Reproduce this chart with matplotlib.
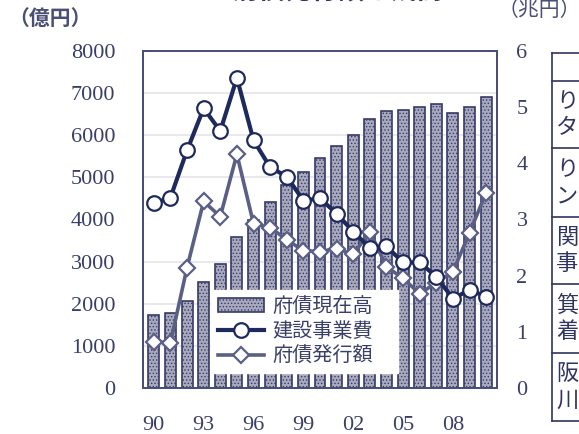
import numpy as np
import matplotlib.pyplot as plt
from matplotlib.lines import Line2D
from matplotlib.ticker import FixedLocator

plt.rcParams['font.family'] = ['Noto Sans CJK JP', 'DejaVu Sans']
plt.rcParams['hatch.linewidth'] = 0.6

# data
years = list(range(1990, 2011))
debt_balance = [1.30, 1.34, 1.55, 1.89, 2.20, 2.68, 3.00, 3.32, 3.61, 3.84, 4.09,
                4.30, 4.50, 4.79, 4.93, 4.95, 5.00, 5.05, 4.89, 5.00, 5.18]   # 兆円
construction = [4380, 4520, 5640, 6640, 6100, 7360, 5880, 5240, 5020, 4450, 4500,
                4140, 3710, 3330, 3360, 2980, 2980, 2640, 2120, 2330, 2170]  # 億円
bond_issue = [1100, 1070, 2860, 4430, 4070, 5550, 3900, 3810, 3520, 3260, 3240,
              3310, 3170, 3710, 2880, 2600, 2240, 2500, 2760, 3690, 4640]    # 億円
xtick_labels = ['90', '93', '96', '99', '02', '05', '08']
legend_labels = ['府債現在高', '建設事業費', '府債発行額']
table_chars = ['り\nタ', 'り\nン', '関\n事', '箕\n着', '阪\n川']

navy = '#1f2a5c'
slate = '#5b5f86'
text_c = '#3a3f68'
edge_c = '#363b68'
bar_fill = '#a9a9bd'

fig = plt.figure(figsize=(5.79, 4.34), dpi=100)
ax = fig.add_axes([143/579, 46/434, 354/579, 337/434])
ax2 = ax.twinx()
ax.set_zorder(ax2.get_zorder() + 1)
ax.patch.set_visible(False)

x = np.arange(len(years))

# bars on right axis
ax2.bar(x, debt_balance, width=0.66, facecolor=bar_fill, edgecolor=edge_c,
        hatch='.....', linewidth=1.2, zorder=2)
ax2.set_ylim(0, 6)
ax2.set_yticks(range(0, 7))
ax2.yaxis.set_minor_locator(FixedLocator(np.arange(1000, 8000, 1000) * 6 / 8000))
ax2.grid(which='minor', axis='y', color='#e4e4ea', linewidth=1.2, zorder=0)
ax2.tick_params(axis='y', which='both', length=0, pad=14, labelsize=16, labelcolor=text_c)
for lab in ax2.get_yticklabels():
    lab.set_family('Liberation Serif')

# lines on left axis
l1, = ax.plot(x, construction, color=navy, lw=3, marker='o', ms=10.5,
              mfc='white', mec=navy, mew=1.6, zorder=4)
l2, = ax.plot(x, bond_issue, color=slate, lw=2.6, marker='D', ms=8.5,
              mfc='white', mec=slate, mew=1.6, zorder=3)
ax.set_ylim(0, 8000)
ax.set_yticks(range(0, 8001, 1000))
ax.set_xlim(-0.65, len(years) - 0.35)
ax.set_xticks(x[::3])
ax.set_xticklabels(xtick_labels)
ax.tick_params(axis='both', length=0, labelsize=16, labelcolor=text_c)
ax.tick_params(axis='y', pad=20)
ax.tick_params(axis='x', pad=20)
for lab in ax.get_yticklabels() + ax.get_xticklabels():
    lab.set_family('Liberation Serif')

for a in (ax, ax2):
    for s in a.spines.values():
        s.set_color('#4a4f7a')
        s.set_linewidth(1.4)

bar_handle = plt.Rectangle((0, 0), 1, 1, facecolor=bar_fill, edgecolor=edge_c,
                           hatch='.....', linewidth=1.2)
leg = ax.legend([bar_handle, l1, l2], legend_labels, loc='lower left',
                bbox_to_anchor=(0.165, 0.015, 0.585, 0.26), mode='expand',
                fontsize=14.5, handlelength=2.3, frameon=True, fancybox=False,
                borderpad=0.3, labelspacing=0.2, handletextpad=0.4)
leg.get_frame().set_facecolor('white')
leg.get_frame().set_edgecolor('white')
leg.get_frame().set_alpha(1)
for t in leg.get_texts():
    t.set_color(text_c)

# unit labels and title (cropped at the top edge as in the source)
fig.text(8/579, 1 - 18/434, '（億円）', fontsize=15, color='#4a4f75',
         fontweight='bold', ha='left', va='center')
fig.text(498/579, 1 - 10/434, '（兆円）', fontsize=15, color='#4a4f75',
         ha='left', va='center')
fig.text(338/579, 1 - 5/434, '府債発行額と残高', fontsize=19, color='#2f355f',
         fontweight='bold', ha='center', va='bottom')

# cropped table at right
row_lines = [53, 81, 148, 217, 284, 353, 421]
for y in row_lines:
    fig.add_artist(Line2D([552/579, 1.0], [1 - y/434, 1 - y/434],
                          color='#2f355f', lw=1.2))
fig.add_artist(Line2D([552/579, 552/579], [1 - 53/434, 1 - 421/434],
                      color='#2f355f', lw=1.2))
for i, s in enumerate(table_chars):
    yc = (row_lines[i + 1] + row_lines[i + 2]) / 2
    fig.text(556/579, 1 - yc/434, s, fontsize=16, color='#2f355f',
             ha='left', va='center', linespacing=1.2)

plt.savefig('out.png', dpi=100)
